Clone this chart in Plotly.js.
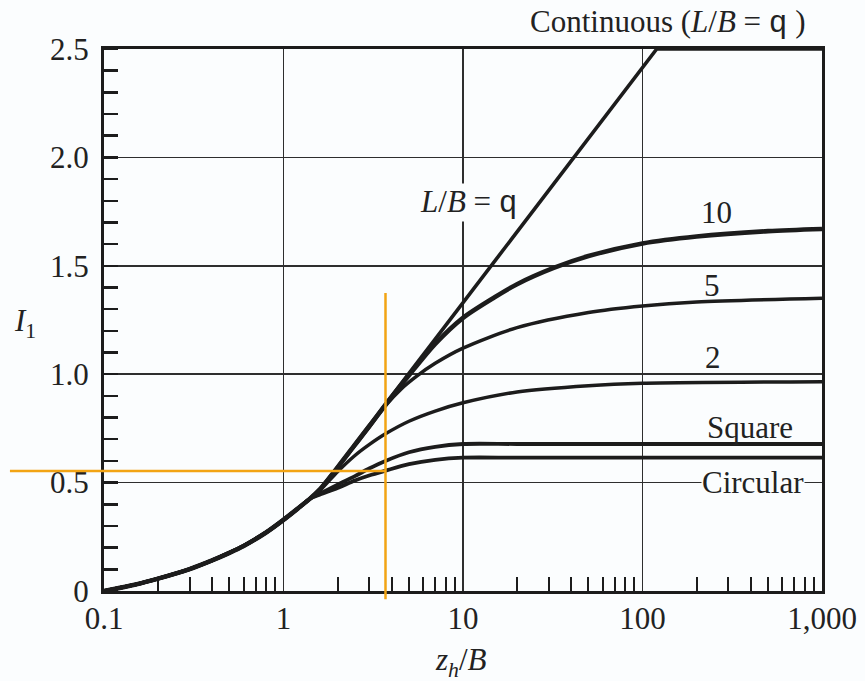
<!DOCTYPE html>
<html>
<head>
<meta charset="utf-8">
<script src="https://cdn.plot.ly/plotly-3.0.1.min.js"></script>
<style>html,body{margin:0;padding:0;background:#fbfdfe;}#chart{width:865px;height:681px;}</style>
</head>
<body>
<div id="chart"></div>
<script>
// ---- data ----
const commonZ = [0.1, 0.15, 0.2, 0.3, 0.4, 0.5, 0.6, 0.8, 1.0, 1.2, 1.4];
const commonI = [0, 0.03, 0.057, 0.101, 0.141, 0.176, 0.208, 0.27, 0.328, 0.38, 0.425];

const infZ = [1.6, 2, 2.5, 3, 4, 5, 7, 10, 20, 50, 100, 120, 1000];
const infI = [0.47, 0.57, 0.677, 0.763, 0.898, 1.004, 1.162, 1.33, 1.656, 2.09, 2.415, 2.5, 2.5];

const lb10Z = [1.6, 2, 2.5, 3, 4, 5, 7, 10, 15, 20, 32, 50, 100, 200, 500, 1000];
const lb10I = [0.47, 0.57, 0.675, 0.76, 0.895, 0.995, 1.14, 1.26, 1.355, 1.415, 1.49, 1.545, 1.603, 1.635, 1.66, 1.67];

const lb5Z = [1.6, 2, 2.5, 3, 3.7, 4.5, 5.5, 7, 10, 20, 50, 100, 200, 1000];
const lb5I = [0.47, 0.57, 0.67, 0.755, 0.855, 0.93, 0.99, 1.05, 1.12, 1.215, 1.285, 1.315, 1.333, 1.35];

const lb2Z = [1.6, 2, 2.5, 3, 3.7, 5, 7, 10, 20, 50, 100, 1000];
const lb2I = [0.465, 0.55, 0.625, 0.675, 0.725, 0.783, 0.83, 0.868, 0.918, 0.947, 0.958, 0.965];

const squareZ = [1.6, 2, 2.5, 3, 3.7, 5, 7, 10, 20, 100, 1000];
const squareI = [0.45, 0.49, 0.53, 0.565, 0.60, 0.64, 0.665, 0.678, 0.678, 0.678, 0.678];

const circZ = [1.6, 2, 2.5, 3, 3.7, 5, 7, 10, 20, 100, 1000];
const circI = [0.445, 0.475, 0.51, 0.533, 0.555, 0.585, 0.605, 0.615, 0.615, 0.615, 0.615];

const xTickVals = [0.1, 1, 10, 100, 1000];
const xTickText = ['0.1', '1', '10', '100', '1,000'];
const xMinorVals = [0.2,0.3,0.4,0.5,0.6,0.7,0.8,0.9, 2,3,4,5,6,7,8,9, 20,30,40,50,60,70,80,90, 200,300,400,500,600,700,800,900];
const yTickVals = [0, 0.5, 1.0, 1.5, 2.0, 2.5];
const yTickText = ['0', '0.5', '1.0', '1.5', '2.0', '2.5'];

const readZ = 3.7, readI = 0.553;   // orange reading lines
const X_RANGE = [-1, 3], Y_RANGE = [0, 2.5];

// ---- build ----
const INK = '#1c1c1c';
const BG = '#fbfdfe';
const SERIF = 'Liberation Serif, Times New Roman, serif';
const Q = '<span style="font-family:Liberation Mono, monospace">q</span>';

function series(z, i, w, shape) {
  return {
    type: 'scatter', mode: 'lines',
    x: commonZ.concat(z), y: commonI.concat(i),
    line: {color: INK, width: w, shape: shape || 'spline', smoothing: 0.8},
    hoverinfo: 'skip', showlegend: false
  };
}
const traces = [
  series(infZ, infI, 3.6, 'linear'),
  series(circZ, circI, 3.8),
  series(squareZ, squareI, 3.8),
  series(lb2Z, lb2I, 3.5),
  series(lb5Z, lb5I, 3.5),
  series(lb10Z, lb10I, 4.6)
];

const xPaper = v => (Math.log10(v) - X_RANGE[0]) / (X_RANGE[1] - X_RANGE[0]);
const yPaper = v => (v - Y_RANGE[0]) / (Y_RANGE[1] - Y_RANGE[0]);
const ORANGE = '#f2a414';
const FONT = {family: SERIF, size: 31, color: '#222'};

function lab(text, z, v, opts) {
  return Object.assign({
    xref: 'x', yref: 'y', x: Math.log10(z), y: v, text: text, showarrow: false,
    font: FONT, xanchor: 'center', yanchor: 'middle'
  }, opts || {});
}

const annotations = [
  lab('10', 260, 1.745),
  lab('5', 244, 1.41),
  lab('2', 248, 1.078),
  lab('Square', 397, 0.755),
  lab('Circular', 413, 0.50, {bgcolor: BG, borderpad: 0}),
  lab('<i>L</i>/<i>B</i> = ' + Q, 10.7, 1.79, {bgcolor: BG, borderpad: 0}),
  lab('Continuous (<i>L</i>/<i>B</i> = ' + Q + ' )', 139, 0, {yref: 'paper', y: yPaper(2.622)}),
  {xref: 'paper', yref: 'paper', x: -0.110, y: 0.494, xanchor: 'center', yanchor: 'middle',
   showarrow: false, text: '<i>I</i><sub>1</sub>', font: FONT},
  {xref: 'paper', yref: 'paper', x: 0.497, y: -0.131, xanchor: 'center', yanchor: 'middle',
   showarrow: false, text: '<i>z<sub>h</sub></i>/<i>B</i>', font: FONT}
];

const shapes = [
  {type: 'line', xref: 'paper', yref: 'paper', x0: -0.131, x1: xPaper(readZ),
   y0: yPaper(readI), y1: yPaper(readI), line: {color: ORANGE, width: 2.5}, layer: 'above'},
  {type: 'line', xref: 'paper', yref: 'paper', x0: xPaper(readZ), x1: xPaper(readZ),
   y0: -0.015, y1: yPaper(1.375), line: {color: ORANGE, width: 2.5}, layer: 'above'}
];

const axisCommon = {
  showgrid: true, gridcolor: '#2e2e2e', gridwidth: 1.5,
  showline: true, mirror: true, linecolor: INK, linewidth: 3,
  zeroline: false, ticks: '', tickmode: 'array',
  tickfont: FONT
};

const layout = {
  width: 865, height: 681,
  margin: {l: 104, r: 43, t: 49, b: 90, pad: 0},
  paper_bgcolor: BG, plot_bgcolor: BG,
  showlegend: false,
  xaxis: Object.assign({}, axisCommon, {
    type: 'log', range: X_RANGE, tickvals: xTickVals, ticktext: xTickText,
    ticklabelstandoff: -2,
    minor: {tickmode: 'array', tickvals: xMinorVals, ticks: 'inside', ticklen: 14,
            tickwidth: 2, tickcolor: INK, showgrid: false}
  }),
  yaxis: Object.assign({}, axisCommon, {
    range: Y_RANGE, tickvals: yTickVals, ticktext: yTickText,
    ticklabelstandoff: 6,
    minor: {dtick: 0.1, tick0: 0, ticks: 'inside', ticklen: 14,
            tickwidth: 2.5, tickcolor: INK, showgrid: false}
  }),
  annotations: annotations,
  shapes: shapes
};

Plotly.newPlot('chart', traces, layout, {staticPlot: true, displayModeBar: false});
</script>
</body>
</html>
